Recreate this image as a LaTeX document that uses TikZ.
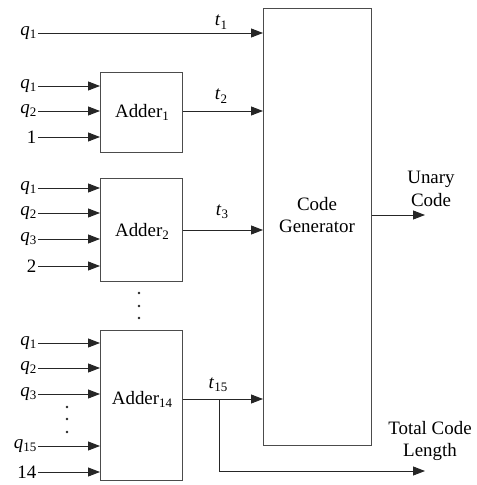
\documentclass[tikz,border=0pt]{standalone}
\usepackage{fontspec}
\setmainfont{Liberation Serif}
\usetikzlibrary{arrows.meta}
% lowered, smaller index digits
\newcommand\lsub[1]{\raisebox{-0.35ex}{\fontsize{13}{13}\selectfont #1}}
\newcommand\qv[1]{\textit{q}\lsub{#1}}
\newcommand\tv[1]{\textit{t}\lsub{#1}}

\begin{document}
\begin{tikzpicture}[x=1bp,y=-1bp,
  font=\fontsize{19}{23}\selectfont,
  wire/.style={draw=black!85, line width=0.9bp},
  sig/.style={wire, -{Triangle[length=12bp,width=9bp]}},
  blk/.style={draw=black!70, line width=0.9bp, rectangle, inner sep=0pt, anchor=north west},
  inlab/.style={anchor=east, inner sep=1.5bp},
  tlab/.style={anchor=base, inner sep=0pt},
  dotpt/.style={fill=black!85}]
\useasboundingbox (0,0) rectangle (477,485);

% blocks
\node[blk, minimum width=82bp, minimum height=80bp]  (a1)  at (100,72)  {};
\node[blk, minimum width=82bp, minimum height=103bp] (a2)  at (100,178) {};
\node[blk, minimum width=82bp, minimum height=150bp] (a14) at (100,330) {};
\node[blk, minimum width=108bp, minimum height=437bp] (cg) at (263,8)   {};

\node at (142,112) {Adder\lsub{1}};
\node at (142,231) {Adder\lsub{2}};
\node at (142,399) {Adder\lsub{14}};
\node[align=center] at (317,215) {Code\\Generator};

% direct input t1
\node[inlab] (q0) at (38,33) {\qv{1}};
\draw[sig] (q0.east) -- (q0.east -| cg.west);
\node[tlab] (t1) at (221,26) {\tv{1}};

% Adder 1 inputs
\node[inlab] (a1q1) at (38,86)  {\qv{1}};
\node[inlab] (a1q2) at (38,111) {\qv{2}};
\node[inlab] (a1c)  at (38,137) {1};
\foreach \n in {a1q1,a1q2,a1c}
  \draw[sig] (\n.east) -- (\n.east -| a1.west);

% Adder 2 inputs
\node[inlab] (a2q1) at (38,188) {\qv{1}};
\node[inlab] (a2q2) at (38,213) {\qv{2}};
\node[inlab] (a2q3) at (38,239) {\qv{3}};
\node[inlab] (a2c)  at (38,266) {2};
\foreach \n in {a2q1,a2q2,a2q3,a2c}
  \draw[sig] (\n.east) -- (\n.east -| a2.west);

% Adder 14 inputs
\node[inlab] (bq1)  at (38,343) {\qv{1}};
\node[inlab] (bq2)  at (38,368) {\qv{2}};
\node[inlab] (bq3)  at (38,394) {\qv{3}};
\node[inlab] (bq15) at (38,446) {\qv{15}};
\node[inlab] (bc)   at (38,472) {14};
\foreach \n in {bq1,bq2,bq3,bq15,bc}
  \draw[sig] (\n.east) -- (\n.east -| a14.west);

% vertical ellipses
\foreach \y in {293,306,318} \fill[dotpt] (139,\y) circle[radius=1.3bp];
\foreach \y in {407,419,432} \fill[dotpt] (67,\y) circle[radius=1.3bp];

% adder outputs
\coordinate (o1)  at (a1.east |- 0,111);
\coordinate (o2)  at (a2.east |- 0,230);
\coordinate (o14) at (a14.east |- 0,399);
\draw[sig] (o1) -- (o1 -| cg.west);
\node[tlab] (t2) at (221,100) {\tv{2}};
\draw[sig] (o2) -- (o2 -| cg.west);
\node[tlab] (t3) at (222,215) {\tv{3}};
\draw[sig] (o14) -- (o14 -| cg.west);
\node[tlab] (t15) at (218,388) {\tv{15}};

% total code length branch
\coordinate (br)  at (219,399);
\coordinate (tcl) at (425,471);
\draw[sig] (br) |- (tcl);
\node[align=center] (tcltxt) at (430,441) {Total Code\\Length};

% unary code output
\coordinate (ucs) at (cg.east |- 0,215);
\coordinate (uc)  at (425,215);
\draw[sig] (ucs) -- (uc);
\node[align=center] (uctxt) at (431,189) {Unary\\Code};
\end{tikzpicture}
\end{document}
